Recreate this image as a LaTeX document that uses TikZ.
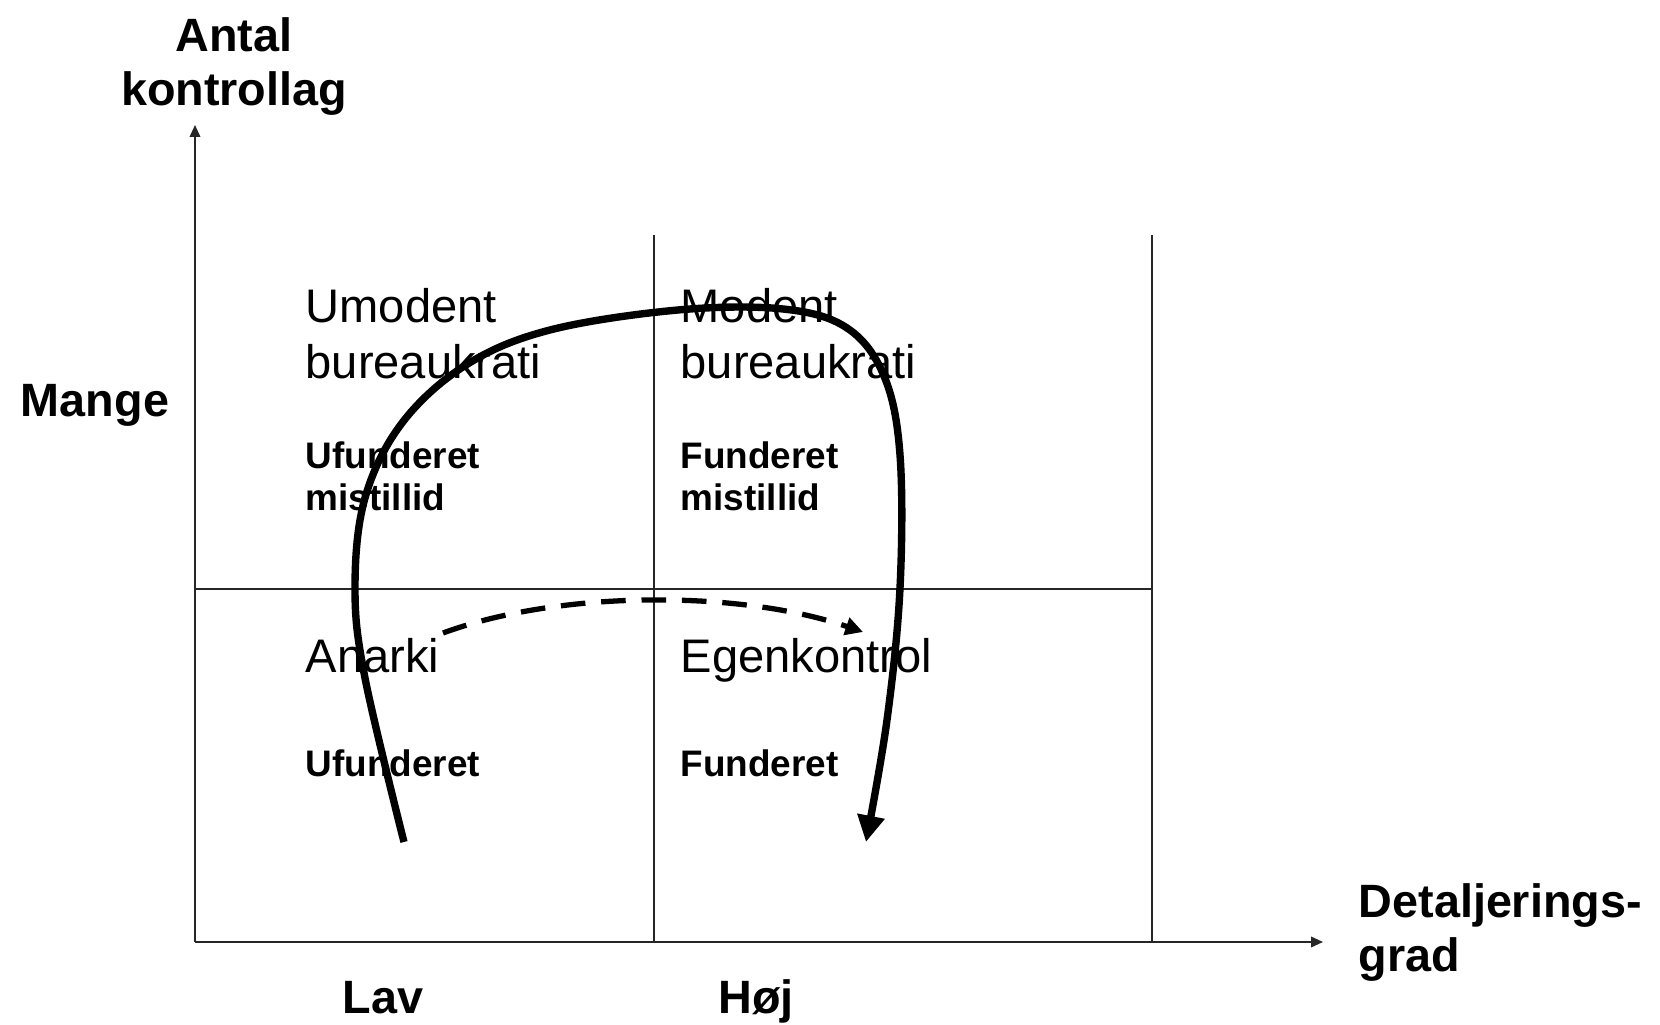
\documentclass[tikz,border=0pt]{standalone}
\usepackage{fontspec}
\setmainfont{Liberation Sans}
\usetikzlibrary{arrows.meta, positioning}
\tikzset{
  quadtxt/.style  = {anchor=base west, align=left, inner sep=0pt,
                     font=\fontsize{13.4}{16.2}\selectfont},
  trusttxt/.style = {anchor=base west, align=left, inner sep=0pt,
                     font=\fontsize{10.5}{11.95}\selectfont\bfseries},
  axlabel/.style  = {anchor=base, align=center, inner sep=0pt,
                     font=\fontsize{13.3}{15.6}\selectfont\bfseries},
  axis/.style     = {-{Triangle[length=3.4pt, width=3pt]}, line width=0.5pt,
                     draw=black!85},
  cell/.style     = {line width=0.4pt, draw=black!85},
  swing/.style    = {-{Triangle[length=7.5pt, width=7.5pt]}, line width=2.1pt},
  leap/.style     = {-{Triangle[length=5pt, width=5pt]}, line width=1.5pt,
                     dash pattern=on 7pt off 4.5pt}
}
\begin{document}
\begin{tikzpicture}
\useasboundingbox (0,0) rectangle (16.6,10.25);
% Axes
\coordinate (origin) at (1.95,0.83);
\coordinate (ytop) at (1.95,9.0);
\coordinate (xend) at (13.23,0.83);
\draw[axis] (origin) -- (ytop);
\draw[axis] (origin) -- (xend);
% Cells
\coordinate (midtop) at (6.54,7.90);
\coordinate (midbot) at (6.54,0.83);
\coordinate (righttop) at (11.52,7.90);
\coordinate (rightbot) at (11.52,0.83);
\coordinate (hleft) at (1.95,4.36);
\coordinate (hright) at (11.52,4.36);
\draw[cell] (midtop) -- (midbot);
\draw[cell] (righttop) -- (rightbot);
\draw[cell] (hleft) -- (hright);
% Axis labels (base = last line)
\node[axlabel] (antal) at (2.34,9.19) {Antal\\kontrollag};
\node[axlabel] (mange) at (0.95,6.08) {Mange};
\node[axlabel] (lav) at (3.83,0.11) {Lav};
\node[axlabel] (hoej) at (7.56,0.11) {Høj};
\node[axlabel, anchor=base west, align=left] (detalj) at (13.58,0.53)
  {Detaljerings-\\grad};
% Quadrants: name, x, y, text
\foreach \name/\x/\y/\txt in {%
  umodent/3.05/6.46/{Umodent\\bureaukrati},
  modent/6.80/6.46/{Modent\\bureaukrati},
  anarki/3.05/3.52/{Anarki},
  egen/6.80/3.52/{Egenkontrol}} {
  \node[quadtxt] (\name) at (\x,\y) {\txt};
}
\foreach \name/\x/\y/\txt in {%
  ufmis/3.05/5.14/{Ufunderet\\mistillid},
  fmis/6.80/5.14/{Funderet\\mistillid},
  uf/3.05/2.48/{Ufunderet},
  f/6.80/2.48/{Funderet}} {
  \node[trusttxt] (\name) at (\x,\y) {\txt};
}
% Development paths
\coordinate (pstart) at (4.04,1.83);
\coordinate (pend) at (8.66,1.83);
\draw[swing] plot[smooth, tension=0.6] coordinates {(pstart) (3.65,3.47)
  (3.55,4.37) (3.65,5.27) (4.02,6.02) (4.66,6.60) (5.50,6.95) (6.78,7.15)
  (7.83,7.16) (8.47,6.97) (8.84,6.49) (9.00,5.70) (9.00,4.37) (8.87,3.05)
  (pend)};
\coordinate (dstart) at (4.43,3.92);
\coordinate (dend) at (8.63,3.93);
\draw[leap] (dstart) .. controls (5.6,4.35) and (7.4,4.35) .. (dend);
\end{tikzpicture}
\end{document}
